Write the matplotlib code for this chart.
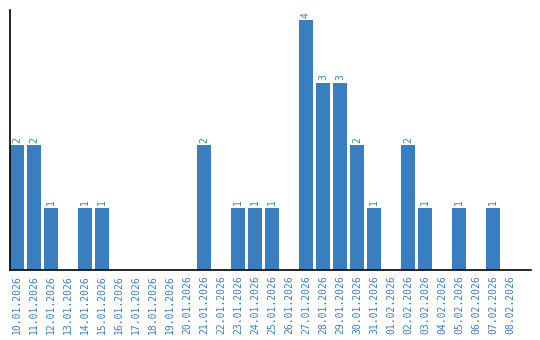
import matplotlib
matplotlib.use("Agg")
import matplotlib.pyplot as plt

dates = [
    "10.01.2026", "11.01.2026", "12.01.2026", "13.01.2026", "14.01.2026",
    "15.01.2026", "16.01.2026", "17.01.2026", "18.01.2026", "19.01.2026",
    "20.01.2026", "21.01.2026", "22.01.2026", "23.01.2026", "24.01.2026",
    "25.01.2026", "26.01.2026", "27.01.2026", "28.01.2026", "29.01.2026",
    "30.01.2026", "31.01.2026", "01.02.2026", "02.02.2026", "03.02.2026",
    "04.02.2026", "05.02.2026", "06.02.2026", "07.02.2026", "08.02.2026",
]
counts = [2, 2, 1, 0, 1, 1, 0, 0, 0, 0,
          0, 2, 0, 1, 1, 1, 0, 4, 3, 3,
          2, 1, 0, 2, 1, 0, 1, 0, 1, 0]

BLUE = "#3a7ec2"

fig = plt.figure(figsize=(5.4, 3.4), dpi=100)
ax = fig.add_axes([10 / 540, 70 / 340, 521 / 540, 260 / 340])

xs = list(range(len(dates)))
ax.bar(xs, counts, width=0.82, color=BLUE)
for x, v in zip(xs, counts):
    if v > 0:
        ax.text(x, v + 0.04, str(v), rotation=90, ha="center", va="bottom",
                color=BLUE, fontsize=7, family="DejaVu Sans Mono")

ax.set_xlim(-0.41, 30.24)
ax.set_ylim(0, 4.16)
ax.set_xticks(xs)
ax.set_xticklabels(dates, rotation=90, color=BLUE, fontsize=7,
                   family="DejaVu Sans Mono")
ax.set_yticks([])
ax.tick_params(axis="x", length=0, pad=4)
for side in ("top", "right"):
    ax.spines[side].set_visible(False)
ax.spines["left"].set_color("black")
ax.spines["bottom"].set_color("black")
ax.spines["left"].set_linewidth(1.2)
ax.spines["bottom"].set_linewidth(1.2)

fig.savefig("out.png", dpi=100, facecolor="white")
